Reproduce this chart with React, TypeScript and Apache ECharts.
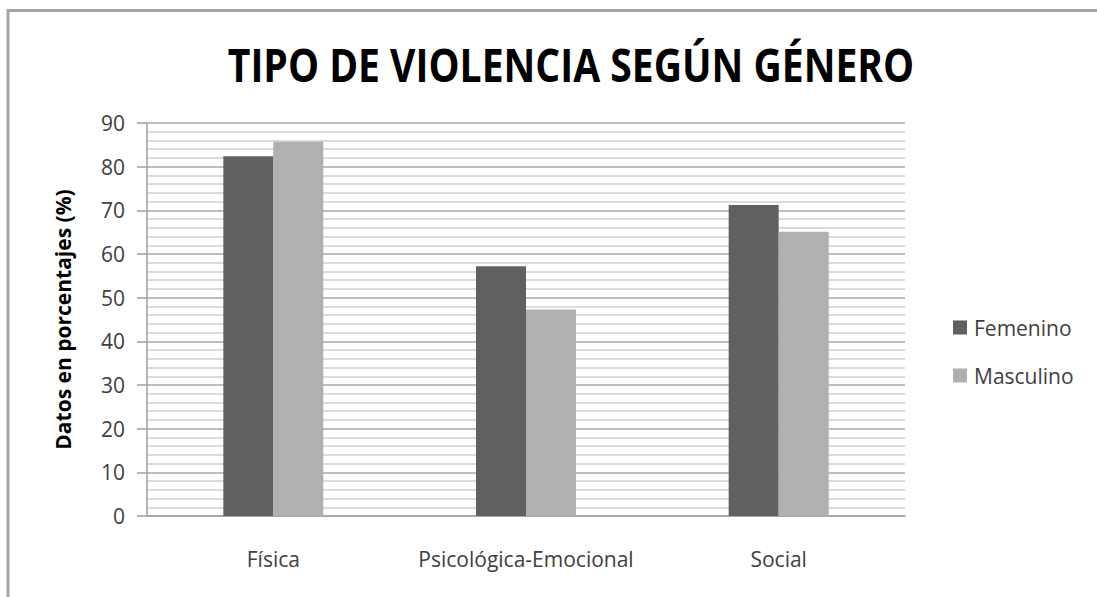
import React, { useEffect, useRef } from "react";
import * as echarts from "echarts";

const categories = ["Física", "Psicológica-Emocional", "Social"];
const femenino = [82.4, 57.2, 71.2];
const masculino = [85.7, 47.3, 65.1];
const seriesNames = ["Femenino", "Masculino"];
const titleText = "TIPO DE VIOLENCIA SEGÚN GÉNERO";
const yAxisName = "Datos en porcentajes (%)";

export default function App() {
  const ref = useRef<HTMLDivElement>(null);
  useEffect(() => {
    if (!ref.current) return;
    const chart = echarts.init(ref.current, null, { renderer: "svg" });
    const labelFont = "'Open Sans', 'DejaVu Sans', sans-serif";
    chart.setOption({
      animation: false,
      backgroundColor: "#ffffff",
      graphic: [
        {
          type: "rect",
          shape: { x: 8, y: 10.5, width: 1300, height: 800 },
          style: { fill: "none", stroke: "#a6a6a6", lineWidth: 3 },
          silent: true,
          z: 100,
        },
        {
          type: "text",
          x: 571,
          y: 64,
          scaleX: 0.85,
          style: {
            text: titleText,
            fontFamily: "'Open Sans', sans-serif",
            fontWeight: "bold",
            fontSize: 46,
            fill: "#000000",
            align: "center",
            verticalAlign: "middle",
          },
        },
      ],
      legend: {
        orient: "vertical",
        left: 948,
        top: 312,
        itemWidth: 14,
        itemHeight: 14,
        itemGap: 27,
        icon: "rect",
        textStyle: {
          fontFamily: labelFont,
          fontSize: 21,
          color: "#404040",
          padding: [0, 0, 0, 2],
        },
        data: seriesNames,
      },
      grid: { left: 147, right: 192, top: 123, bottom: 81 },
      xAxis: {
        type: "category",
        data: categories,
        axisLine: { show: true, lineStyle: { color: "#a0a0a0", width: 1.5 } },
        axisTick: { show: false },
        axisLabel: {
          interval: 0,
          fontFamily: labelFont,
          fontSize: 21,
          color: "#404040",
          margin: 32,
        },
        splitLine: { show: false },
      },
      yAxis: {
        type: "value",
        min: 0,
        max: 90,
        interval: 10,
        name: yAxisName,
        nameLocation: "middle",
        nameGap: 74,
        nameTextStyle: {
          fontFamily: labelFont,
          fontWeight: "bold",
          fontSize: 21,
          color: "#000000",
        },
        axisLine: { show: true, lineStyle: { color: "#a0a0a0", width: 1.5 } },
        axisTick: { show: true, inside: false, length: 10, lineStyle: { color: "#a0a0a0", width: 1.5 } },
        axisLabel: {
          fontFamily: labelFont,
          fontSize: 21,
          color: "#404040",
          margin: 22,
        },
        splitLine: { show: true, lineStyle: { color: "#a8a8a8", width: 1.5 } },
        minorTick: { show: false, splitNumber: 5 },
        minorSplitLine: { show: true, lineStyle: { color: "#cfcfcf", width: 1.5 } },
      },
      series: [
        {
          name: seriesNames[0],
          type: "bar",
          data: femenino,
          barWidth: 50,
          barGap: "0%",
          itemStyle: { color: "#606060" },
        },
        {
          name: seriesNames[1],
          type: "bar",
          data: masculino,
          barWidth: 50,
          barGap: "0%",
          itemStyle: { color: "#b0b0b0" },
        },
      ],
    });
    return () => chart.dispose();
  }, []);
  return (
    <div
      ref={ref}
      style={{ position: "fixed", left: 0, top: 0, width: 1097, height: 597 }}
    />
  );
}
